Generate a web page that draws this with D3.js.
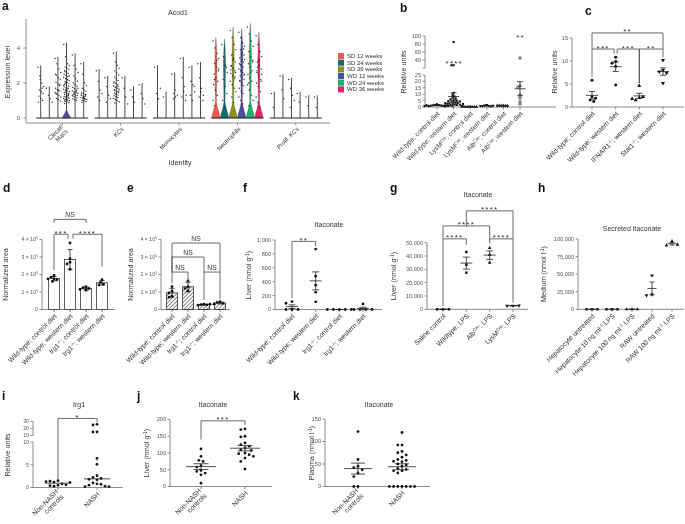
<!DOCTYPE html>
<html>
<head>
<meta charset="utf-8">
<script src="https://cdn.jsdelivr.net/npm/d3@7"></script>
<style>
  body { margin: 0; background: #fff; }
  svg { display: block; will-change: transform; -webkit-font-smoothing: antialiased; }
</style>
</head>
<body>
<script>
const width = 685;
const height = 524;
const AX = "#6e6e6e";
const TXT = "#333";
const FONT = '"Liberation Sans", Arial, sans-serif';

// ---------- panel a : Acod1 expression (violins) ----------
const aGroups = ["Clecaf/\nMacs", "KCs", "Monocytes", "Neutrophils", "Prolif. KCs"];
const aConds = ["SD 12 weeks", "SD 24 weeks", "SD 36 weeks", "WD 12 weeks", "WD 24 weeks", "WD 36 weeks"];
const aColors = ["#ee5a4b", "#176d71", "#8e8d22", "#4a4e9e", "#1ab26c", "#e5216a"];
const aMax = [
  [3.0, 1.8, 3.5, 4.3, 3.7, 3.2],
  [2.8, 2.4, 3.8, 2.4, 1.8, 2.0],
  [3.0, 1.5, 2.6, 3.5, 3.0, 3.2],
  [4.6, 4.5, 5.2, 5.1, 5.4, 4.9],
  [1.5, 2.5, 2.3, 1.5, 1.3, 1.3]
];
// height of the density bulge sitting on zero
const aBulge = [
  [0, 0, 0, 0.45, 0, 0],
  [0, 0, 0, 0, 0, 0],
  [0, 0, 0, 0, 0, 0],
  [0.95, 0.95, 0.95, 0.95, 0.95, 0.95],
  [0, 0, 0, 0, 0, 0]
];
const aDots = [
  [
    [2.9, 2.4, 2.0, 1.8, 1.6, 1.5, 1.4, 1.25, 1.1, 1.0, 0.9, 2.2, 1.7],
    [1.7, 1.3, 1.1, 0.9],
    [3.4, 3.1, 2.8, 2.6, 2.45, 2.3, 2.2, 2.05, 1.95, 1.85, 1.7, 1.62, 1.55, 1.44, 1.35, 1.28, 1.2, 1.12, 1.05, 0.98, 1.4, 1.6, 1.9, 2.5],
    [4.2, 3.5, 3.1, 3.0, 2.92, 2.85, 2.78, 2.7, 2.62, 2.55, 2.5, 2.44, 2.37, 2.31, 2.26, 2.2, 2.15, 2.09, 2.03, 1.98, 1.93, 1.88, 1.83, 1.78, 1.73, 1.69, 1.64, 1.6, 1.55, 1.51, 1.47, 1.43, 1.39, 1.35, 1.31, 1.27, 1.23, 1.19, 1.15, 1.11, 1.07, 1.03, 0.99, 0.95, 0.91, 0.87, 0.83, 1.21, 1.33, 1.45, 1.57, 1.7, 1.86, 2.0, 2.18, 2.4, 2.65, 1.26, 1.13, 1.02],
    [3.6, 3.0, 2.8, 2.6, 2.4, 2.25, 2.1, 2.0, 1.9, 1.82, 1.75, 1.68, 1.6, 1.55, 1.5, 1.45, 1.4, 1.36, 1.32, 1.28, 1.24, 1.2, 1.15, 1.1, 1.05, 1.0, 1.3, 1.42, 1.52, 1.7],
    [3.1, 2.5, 2.0, 1.85, 1.7, 1.6, 1.52, 1.45, 1.4, 1.35, 1.3, 1.26, 1.22, 1.18, 1.14, 1.1, 1.06, 1.02, 0.98, 0.94, 0.9, 1.2, 1.28, 1.38, 1.16, 1.08]
  ],
  [
    [2.7, 2.1, 1.6, 1.4, 1.2, 1.0],
    [2.3, 1.8, 1.3, 1.1, 0.9],
    [3.7, 3.2, 3.0, 2.85, 2.7, 2.58, 2.46, 2.35, 2.25, 2.15, 2.06, 1.98, 1.9, 1.83, 1.76, 1.7, 1.64, 1.58, 1.52, 1.47, 1.42, 1.37, 1.32, 1.27, 1.22, 1.17, 1.12, 1.06, 1.0, 0.93, 0.86, 1.45, 1.55, 1.62, 1.35, 1.8, 2.0],
    [2.3, 1.7, 1.2, 0.8],
    [1.6, 1.2, 0.9],
    [1.9, 1.4, 1.1, 0.8]
  ],
  [
    [2.9, 1.4, 1.1, 1.7],
    [1.2],
    [2.5, 1.4, 1.2, 1.3, 1.1, 1.6],
    [3.4, 2.3, 1.8, 1.3, 1.2, 1.5, 1.0],
    [2.9, 2.1, 1.9, 1.5, 1.3, 1.0, 1.8],
    [3.1, 2.3, 1.7, 1.3, 1.2, 1.5, 1.0]
  ],
  [
    [4.4, 4.0, 3.7, 3.4, 3.1, 2.9, 2.7, 2.5, 2.3, 2.1, 1.9, 1.6, 1.3, 1.0, 0.7, 3.3, 2.8, 2.2],
    [4.2, 3.5, 3.0, 2.6, 2.2, 1.8, 1.4, 1.0, 0.6, 2.9],
    [5.0, 4.6, 4.2, 3.9, 3.6, 3.4, 3.2, 3.0, 2.85, 2.7, 2.55, 2.4, 2.25, 2.1, 1.9, 1.7, 1.5, 1.2, 0.9, 2.6, 2.95, 3.3, 2.35, 2.75],
    [4.9, 4.6, 4.3, 4.1, 3.9, 3.75, 3.6, 3.45, 3.3, 3.2, 3.1, 3.0, 2.9, 2.8, 2.7, 2.6, 2.5, 2.4, 2.3, 2.2, 2.1, 2.0, 1.85, 1.7, 1.55, 1.4, 1.2, 1.0, 0.8, 3.35, 3.05, 2.75, 2.45, 2.15, 3.65, 3.95],
    [5.2, 4.8, 4.4, 4.1, 3.8, 3.5, 3.3, 3.1, 2.9, 2.7, 2.5, 2.3, 2.1, 1.9, 1.6, 1.3, 1.0, 0.7, 2.6, 3.2, 2.0],
    [4.7, 4.2, 3.8, 3.5, 3.2, 3.0, 2.8, 2.6, 2.4, 2.2, 2.0, 1.8, 1.5, 1.2, 0.9, 0.6, 2.5, 2.9, 3.3, 2.1, 2.7]
  ],
  [
    [1.4, 0.6],
    [2.4, 1.6, 1.1],
    [2.2, 1.7, 1.3, 1.0, 0.6],
    [1.4, 0.9],
    [1.2, 0.7],
    [1.2, 0.6]
  ]
];
// violin outline templates: [fraction of height, fraction of max half width]
const bulgeProfile = [[0, 1], [0.25, 0.78], [0.55, 0.45], [0.85, 0.2], [1, 0.13]];
const bodyProfile = [[0, 0.13], [0.3, 0.2], [0.6, 0.26], [0.85, 0.15], [1, 0.02]];

// ---------- panel b ----------
const bCats = ["Wild-type; control diet", "Wild-type; western diet", "LysM^{Cre}; control diet", "LysM^{Cre}; western diet", "Alb^{Cre}; control diet", "Alb^{Cre}; western diet"];
const bValues = [
  [2.1, 1.7, 1.5, 1.3, 1.2, 1.0, 0.9, 0.8, 0.6, 1.4, 1.1, 0.7],
  [85, 27, 27, 11, 9.5, 8.2, 7.4, 6.6, 6, 5.5, 5, 4.6, 4.2, 3.8, 3.5, 3.2, 2.9, 2.6, 2.3, 2.0, 1.8, 1.6, 1.4, 1.2, 1.0, 0.8, 0.6, 4.4, 3.0, 2.4],
  [0.4, 0.3, 0.2, 0.15, 0.1, 0.3, 0.2, 0.1],
  [1.6, 1.2, 0.9, 0.7, 0.5, 0.8, 1.0],
  [1.2, 1.0, 0.9, 1.1, 0.8, 1.0],
  [45, 16.5, 15.5, 9.4, 7, 4.1, 2.3]
];
const bStars = [[1, "****", 26], [5, "**", 89]];

// ---------- panel c ----------
const cCats = ["Wild-type; control diet", "Wild-type; western diet", "IFNAR1^{-/-}; western diet", "Stat1^{-/-}; western diet"];
const cValues = [
  [5.8, 2.2, 1.5, 1.2, 1.9],
  [10.8, 9.9, 9.5, 8.8, 4.8],
  [4.6, 2.0, 1.5, 2.2, 1.8],
  [10.2, 8.0, 7.7, 7.4, 5.2]
];
// [from, to, label, bracket value, left leg end, right leg end, left dx, right dx]
const cBrackets = [
  [0, 3, "**", 16.1, 12.6, 12.6, 0, 0],
  [0, 1, "***", 12.6, 6.6, 11.6, 0, -1.5],
  [1, 2, "***", 12.6, 11.6, 5.2, 1.5, 0],
  [2, 3, "**", 12.6, 5.2, 10.8, 0, 0]
];

// ---------- panels d, e, f ----------
const irgCats = ["Wild-type; control diet", "Wild-type; western diet", "Irg1^{-/-}; control diet", "Irg1^{-/-}; western diet"];
const dValues = [
  [1.95e5, 1.85e5, 1.75e5, 1.7e5, 1.6e5, 1.75e5],
  [3.8e5, 2.7e5, 2.6e5, 2.3e5, 2.9e5],
  [1.3e5, 1.25e5, 1.2e5, 1.15e5, 1.1e5],
  [1.7e5, 1.55e5, 1.45e5, 1.4e5]
];
const dBrackets = [
  [0, 2, "NS", 5.15e5, 4.95e5, 4.95e5, 0, 0],
  [0, 1, "***", 4.3e5, 2.25e5, 4.05e5, 0, -2],
  [1, 3, "****", 4.3e5, 4.05e5, 2.45e5, 3, 0]
];
const eValues = [
  [1.3e5, 1.05e5, 0.95e5, 0.75e5, 0.7e5],
  [1.65e5, 1.3e5, 1.2e5, 1.05e5],
  [0.3e5, 0.28e5, 0.27e5, 0.25e5, 0.3e5],
  [0.45e5, 0.4e5, 0.35e5, 0.32e5]
];
const eBrackets = [
  [0, 3, "NS", 3.8e5, 2.15e5, 2.15e5, 0, 0],
  [0, 2, "NS", 3.0e5, 2.15e5, 2.14e5, 0, 0],
  [0, 1, "NS", 2.14e5, 1.5e5, 1.75e5, 0, 0],
  [2, 3, "NS", 2.14e5, 0.55e5, 0.6e5, 0, 0]
];
const fValues = [
  [115, 90, 0, 0, 0],
  [870, 480, 350, 250, 110],
  [0, 0, 0, 0, 0],
  [80, 0, 0, 0, 0]
];
const fBrackets = [[0, 1, "**", 980, 165, 910, 0, 0]];

// ---------- panel g ----------
const gCats = ["Saline control", "Wildtype; LPS", "Alb^{Cre}; LPS", "LysM^{Cre}; LPS"];
const gValues = [
  [0, 0, 0],
  [43000, 33500, 27500],
  [46000, 41000, 35000],
  [2700, 2600, 2800]
];
const gBrackets = [
  [1, 3, "****", 73900, 62000, 53000, 0, 0],
  [0, 2, "****", 62600, 53000, 53000, 0, 0],
  [0, 1, "****", 52900, 2500, 48500, 0, 0],
  [2, 3, "****", 52900, 49500, 5000, 0, 0]
];

// ---------- panel h ----------
const hCats = ["Hepatocyte untreated", "Hepatocyte 10 ng ml^{-1} LPS", "Hepatocyte 100 ng ml^{-1} LPS", "RAW untreated", "RAW 100 ng ml^{-1} LPS"];
const hValues = [
  [0, 0, 0],
  [0, 0, 0],
  [0, 0, 0],
  [48000, 21000, 20000],
  [97000, 91000, 92000]
];

// ---------- panels i, j, k ----------
const nashCats = ["Non-NASH\ncontrols", "NASH"];
const iValues = [
  [1.5, 1.2, 0.8, 1.4, 0.5, 0.3, 0.4, 0.6, 1.3, 1.1],
  [26, 25, 15, 15, 6.4, 5.1, 2.6, 2.2, 2.0, 1.8, 1.7, 1.0, 0.8, 0.7, 0.5, 0.3, 0.2, 0.2]
];
const iBrackets = [[0, 1, "*", 34.4, 1.8, 28.7, 0, 0]];
const jValues = [
  [112, 90, 78, 75, 62, 58, 48, 45, 40, 35, 10],
  [172, 170, 150, 148, 130, 125, 120, 115, 110, 108, 100, 98, 95, 90, 85, 75, 52]
];
const jBrackets = [[0, 1, "***", 196, 140, 183, 0, 0]];
const kValues = [
  [122, 60, 45, 42, 37, 30, 22, 0, 0],
  [120, 92, 92, 78, 75, 70, 65, 60, 58, 56, 55, 50, 48, 45, 40, 38, 35, 35, 30, 0, 0, 0, 0, 0, 0, 0]
];

// =====================================================
const svg = d3.select("body").append("svg")
  .attr("width", width)
  .attr("height", height)
  .style("font-family", FONT);

const defs = svg.append("defs");
defs.append("pattern")
  .attr("id", "hatch")
  .attr("patternUnits", "userSpaceOnUse")
  .attr("width", 2.7).attr("height", 2.7)
  .attr("patternTransform", "rotate(45)")
  .append("line")
  .attr("x1", 0).attr("y1", 0).attr("x2", 0).attr("y2", 2.7)
  .attr("stroke", "#222").attr("stroke-width", 1.1);

// text with ^{superscript} parts
function rich(sel, str) {
  str.split(/(\^\{[^}]*\})/).forEach(part => {
    if (!part) return;
    const m = part.match(/^\^\{(.*)\}$/);
    if (m) {
      sel.append("tspan").attr("baseline-shift", "super").attr("font-size", "0.68em").text(m[1]);
    } else {
      sel.append("tspan").text(part);
    }
  });
}

function letter(t, x, y) {
  svg.append("text").attr("x", x).attr("y", y)
    .attr("font-size", 12).attr("font-weight", "bold").attr("fill", "#111").text(t);
}

function title(t, x, y) {
  svg.append("text").attr("x", x).attr("y", y).attr("text-anchor", "middle")
    .attr("font-size", 7).attr("fill", TXT).text(t);
}

function yLabel(t, x, y) {
  const el = svg.append("text")
    .attr("transform", `translate(${x},${y}) rotate(-90)`)
    .attr("text-anchor", "middle")
    .attr("font-size", 7.2).attr("fill", TXT);
  rich(el, t);
}

function catLabel(g, x, y, str, fs) {
  const lines = str.split("\n");
  const t = g.append("text")
    .attr("transform", `translate(${x},${y}) rotate(-45)`)
    .attr("text-anchor", "end")
    .attr("font-size", fs).attr("fill", TXT);
  lines.forEach((ln, k) => {
    const ts = t.append("tspan").attr("x", 0)
      .attr("dy", k === 0 ? (lines.length > 1 ? "-0.15em" : "0.35em") : "1.05em");
    rich(ts, ln);
  });
}

function symbolPath(type, size) {
  const t = {
    circle: d3.symbolCircle, open: d3.symbolCircle, square: d3.symbolSquare,
    tri: d3.symbolTriangle, triDown: d3.symbolTriangle, diamond: d3.symbolDiamond
  }[type];
  return d3.symbol(t, size)();
}

// simple beeswarm: nearest free horizontal slot
function swarm(ys, sep) {
  const placed = [];
  return ys.map(yy => {
    let off = 0;
    for (let k = 0; k < 80; k++) {
      const c = (k % 2 ? -1 : 1) * Math.ceil(k / 2) * sep * 0.5;
      if (placed.every(p => Math.hypot(p[0] - c, p[1] - yy) >= sep)) { off = c; break; }
    }
    placed.push([off, yy]);
    return off;
  });
}

function drawPanel(o) {
  const g = svg.append("g");
  const segs = o.segs.map(s => Object.assign({}, s, {
    sc: d3.scaleLinear().domain(s.domain).range(s.range)
  }));
  const y = v => (segs.length > 1 && v > segs[0].domain[1]) ? segs[1].sc(v) : segs[0].sc(v);
  const x = d3.scalePoint().domain(d3.range(o.cats.length)).range(o.xr);
  const base = segs[0].range[0];
  const fmt = o.fmt || d3.format(",");

  // y axis (one line per segment)
  segs.forEach(s => {
    g.append("line")
      .attr("x1", o.ax).attr("x2", o.ax)
      .attr("y1", s.range[0]).attr("y2", s.range[1])
      .attr("stroke", AX).attr("stroke-width", 0.8);
    s.ticks.forEach(t => {
      const ty = s.sc(t);
      g.append("line")
        .attr("x1", o.ax - 2.5).attr("x2", o.ax).attr("y1", ty).attr("y2", ty)
        .attr("stroke", AX).attr("stroke-width", 0.8);
      if (s.hide && s.hide.includes(t)) return;
      const lab = g.append("text")
        .attr("x", o.ax - 4).attr("y", ty).attr("dy", "0.35em")
        .attr("text-anchor", "end")
        .attr("font-size", o.tickFs || 5.6).attr("fill", "#555");
      rich(lab, fmt(t));
    });
  });

  // x axis
  g.append("line")
    .attr("x1", o.ax).attr("x2", o.xEnd).attr("y1", base).attr("y2", base)
    .attr("stroke", AX).attr("stroke-width", 0.8);
  o.cats.forEach((c, i) => {
    g.append("line")
      .attr("x1", x(i)).attr("x2", x(i)).attr("y1", base).attr("y2", base + 2.5)
      .attr("stroke", AX).attr("stroke-width", 0.8);
    catLabel(g, x(i) + 1.5, base + 5.5, c, o.catFs || 6.8);
  });

  const stats = o.values.map(v => ({
    mean: d3.mean(v), med: d3.median(v), sd: d3.deviation(v) || 0, n: v.length
  }));

  // bars with SD
  if (o.bar) {
    stats.forEach((s, i) => {
      g.append("rect")
        .attr("x", x(i) - 5.5).attr("width", 11)
        .attr("y", y(s.mean)).attr("height", base - y(s.mean))
        .attr("fill", o.bar === "hatch" ? "url(#hatch)" : "#fff")
        .attr("stroke", "#333").attr("stroke-width", 0.8);
      g.append("line")
        .attr("x1", x(i)).attr("x2", x(i))
        .attr("y1", y(s.mean - s.sd)).attr("y2", y(s.mean + s.sd))
        .attr("stroke", "#222").attr("stroke-width", 0.8);
      [s.mean - s.sd, s.mean + s.sd].forEach(v => {
        g.append("line")
          .attr("x1", x(i) - 2.5).attr("x2", x(i) + 2.5).attr("y1", y(v)).attr("y2", y(v))
          .attr("stroke", "#222").attr("stroke-width", 0.8);
      });
    });
  }

  // points
  o.values.forEach((vals, i) => {
    const ys = vals.map(y);
    const offs = swarm(ys, o.sep);
    const type = o.syms[i % o.syms.length];
    vals.forEach((v, k) => {
      g.append("path")
        .attr("d", symbolPath(type, o.symSize || 6))
        .attr("transform", `translate(${x(i) + offs[k]},${ys[k]})${type === "triDown" ? " rotate(180)" : ""}`)
        .attr("fill", type === "open" ? "#fff" : "#111")
        .attr("stroke", "#111")
        .attr("stroke-width", type === "open" ? 0.7 : 0);
    });
  });

  // mean / median lines
  if (!o.bar) {
    stats.forEach((s, i) => {
      const cx = x(i);
      const m = o.stat === "median" ? s.med : s.mean;
      g.append("line")
        .attr("x1", cx - o.meanW / 2).attr("x2", cx + o.meanW / 2)
        .attr("y1", y(m)).attr("y2", y(m))
        .attr("stroke", "#222").attr("stroke-width", 0.8);
      if (o.stat !== "median") {
        const e = s.sd / Math.sqrt(s.n);
        g.append("line")
          .attr("x1", cx).attr("x2", cx).attr("y1", y(m - e)).attr("y2", y(m + e))
          .attr("stroke", "#222").attr("stroke-width", 0.8);
        [m - e, m + e].forEach(v => {
          g.append("line")
            .attr("x1", cx - o.capW / 2).attr("x2", cx + o.capW / 2)
            .attr("y1", y(v)).attr("y2", y(v))
            .attr("stroke", "#222").attr("stroke-width", 0.8);
        });
      }
    });
  }

  // significance brackets
  (o.brackets || []).forEach(([a, b, lab, yv, l1, l2, dx1, dx2]) => {
    const x1 = x(a) + dx1, x2 = x(b) + dx2, yb = y(yv);
    g.append("path")
      .attr("d", `M${x1},${y(l1)}V${yb}H${x2}V${y(l2)}`)
      .attr("fill", "none").attr("stroke", "#444").attr("stroke-width", 0.8);
    g.append("text")
      .attr("x", (x1 + x2) / 2).attr("y", lab === "NS" ? yb - 2 : yb + 1.5)
      .attr("text-anchor", "middle")
      .attr("font-size", lab === "NS" ? 6.8 : 8)
      .attr("letter-spacing", lab === "NS" ? 0 : 1.2)
      .attr("fill", TXT).text(lab);
  });
  (o.stars || []).forEach(([i, lab, v]) => {
    g.append("text")
      .attr("x", x(i) + 0.6).attr("y", y(v)).attr("text-anchor", "middle")
      .attr("font-size", 8).attr("letter-spacing", 1.2)
      .attr("fill", TXT).text(lab);
  });
}

// =================== panel a ===================
(function () {
  const g = svg.append("g");
  const x = d3.scaleBand().domain(aGroups).range([33, 325]);
  const sub = d3.scalePoint().domain(aConds).range([-21.5, 21.5]);
  const y = d3.scaleLinear().domain([0, 5.6]).range([118, 20]);
  const hw = 4.3;

  g.append("line").attr("x1", 26).attr("x2", 26).attr("y1", 123).attr("y2", 19)
    .attr("stroke", AX).attr("stroke-width", 0.8);
  g.append("line").attr("x1", 26).attr("x2", 330).attr("y1", 123).attr("y2", 123)
    .attr("stroke", AX).attr("stroke-width", 0.8);
  [0, 2, 4].forEach(t => {
    g.append("line").attr("x1", 23.5).attr("x2", 26).attr("y1", y(t)).attr("y2", y(t))
      .attr("stroke", AX).attr("stroke-width", 0.8);
    g.append("text").attr("x", 20).attr("y", y(t)).attr("dy", "0.35em")
      .attr("text-anchor", "end").attr("font-size", 6).attr("fill", "#555").text(t);
  });

  function violinPath(cx, max, bulge, full) {
    const pts = bulgeProfile.map(([f, w]) => [y(f * bulge), w * hw]);
    if (full) bodyProfile.forEach(([f, w]) => pts.push([y(bulge + f * (max - bulge)), w * hw]));
    const right = pts.map(([py, w]) => [cx + w, py]);
    const left = pts.slice().reverse().map(([py, w]) => [cx - w, py]);
    return d3.line()(right.concat(left)) + "Z";
  }

  aGroups.forEach((grp, gi) => {
    const gc = x(grp) + x.bandwidth() / 2;
    const full = aBulge[gi].every(b => b > 0);
    aConds.forEach((cond, ci) => {
      const cx = gc + sub(cond);
      const max = aMax[gi][ci];
      const bulge = aBulge[gi][ci];
      if (full) {
        g.append("path").attr("d", violinPath(cx, max, bulge, true))
          .attr("fill", aColors[ci]).attr("stroke", "#333").attr("stroke-width", 0.25);
      } else {
        g.append("line").attr("x1", cx).attr("x2", cx).attr("y1", y(0)).attr("y2", y(max))
          .attr("stroke", "#4a4a4a").attr("stroke-width", 1);
        if (bulge > 0) {
          g.append("path").attr("d", violinPath(cx, max, bulge, false))
            .attr("fill", aColors[ci]).attr("stroke", "#333").attr("stroke-width", 0.25);
        }
      }
      aDots[gi][ci].forEach((v, k) => {
        const jit = (((k * 17) % 13) / 12 - 0.5) * 5.6;
        g.append("circle").attr("cx", cx + jit).attr("cy", y(v)).attr("r", 0.72)
          .attr("fill", "#111").attr("opacity", 0.85);
      });
    });
    // cells with zero expression
    g.append("line")
      .attr("x1", gc + sub(aConds[0]) - 4.5).attr("x2", gc + sub(aConds[5]) + 4.5)
      .attr("y1", y(0)).attr("y2", y(0))
      .attr("stroke", "#222").attr("stroke-width", 1.2);
    g.append("line").attr("x1", gc).attr("x2", gc).attr("y1", 123).attr("y2", 125.5)
      .attr("stroke", AX).attr("stroke-width", 0.8);
    catLabel(g, gc + 2, 128, grp, 6);
  });

  // legend
  const lg = g.append("g").attr("transform", "translate(338,53)");
  aConds.forEach((c, i) => {
    lg.append("rect").attr("x", 0).attr("y", i * 6.67).attr("width", 6).attr("height", 6.1)
      .attr("fill", aColors[i]);
    lg.append("text").attr("x", 9).attr("y", i * 6.67 + 3).attr("dy", "0.35em")
      .attr("font-size", 6).attr("fill", TXT).text(c);
  });

  title("Acod1", 178, 15);
  yLabel("Expression level", 10, 72);
  svg.append("text").attr("x", 180).attr("y", 165).attr("text-anchor", "middle")
    .attr("font-size", 7.2).attr("fill", TXT).text("Identity");
})();

// =================== panel b ===================
drawPanel({
  cats: bCats, values: bValues, xr: [437, 520], ax: 425, xEnd: 556,
  segs: [
    { domain: [0, 25], range: [107, 75], ticks: [0, 5, 10, 15, 20, 25] },
    { domain: [20, 100], range: [68, 36], ticks: [20, 40, 60, 80, 100], hide: [20] }
  ],
  syms: ["circle", "square", "tri", "triDown", "diamond", "open"], symSize: 4.5,
  sep: 2.1, meanW: 11, capW: 6, stars: bStars, catFs: 6.6
});

// =================== panel c ===================
drawPanel({
  cats: cCats, values: cValues, xr: [592, 663], ax: 572, xEnd: 684,
  segs: [{ domain: [0, 15], range: [107, 38], ticks: [0, 5, 10, 15] }],
  syms: ["circle", "circle", "tri", "triDown"], symSize: 7,
  sep: 3.6, meanW: 12, capW: 6, brackets: cBrackets
});

// =================== panels d, e ===================
const sciFmt = t => t === 0 ? "0" : `${t / 1e5} × 10^{5}`;
drawPanel({
  cats: irgCats, values: dValues, xr: [54, 102], ax: 42, xEnd: 115,
  segs: [{ domain: [0, 4e5], range: [309.5, 239.5], ticks: [0, 1e5, 2e5, 3e5, 4e5] }],
  fmt: sciFmt, tickFs: 5.2, bar: "open", syms: ["circle"], symSize: 6, sep: 3, brackets: dBrackets
});
drawPanel({
  cats: irgCats, values: eValues, xr: [172, 220], ax: 161, xEnd: 230,
  segs: [{ domain: [0, 4e5], range: [309.5, 239.5], ticks: [0, 1e5, 2e5, 3e5, 4e5] }],
  fmt: sciFmt, tickFs: 5.2, bar: "hatch", syms: ["circle", "tri", "circle", "tri"], symSize: 6, sep: 3, brackets: eBrackets
});

// =================== panel f ===================
drawPanel({
  cats: irgCats, values: fValues, xr: [292, 363], ax: 275, xEnd: 382,
  segs: [{ domain: [0, 1000], range: [309.5, 240], ticks: [0, 200, 400, 600, 800, 1000] }],
  syms: ["circle"], symSize: 6, sep: 6, meanW: 12, capW: 7, brackets: fBrackets
});

// =================== panel g ===================
drawPanel({
  cats: gCats, values: gValues, xr: [443, 513], ax: 427, xEnd: 528,
  segs: [{ domain: [0, 50000], range: [309.3, 242.7], ticks: [0, 10000, 20000, 30000, 40000, 50000] }],
  syms: ["circle", "square", "tri", "triDown"], symSize: 6, sep: 6, meanW: 12, capW: 7, brackets: gBrackets
});

// =================== panel h ===================
drawPanel({
  cats: hCats, values: hValues, xr: [592, 672], ax: 578, xEnd: 684,
  segs: [{ domain: [0, 100000], range: [309.3, 239], ticks: [0, 25000, 50000, 75000, 100000] }],
  syms: ["circle", "square", "tri", "triDown", "tri"], symSize: 6, sep: 5.5, meanW: 9, capW: 5
});

// =================== panels i, j, k ===================
drawPanel({
  cats: nashCats, values: iValues, xr: [58, 97], ax: 33, xEnd: 123,
  segs: [
    { domain: [0, 10], range: [487.5, 442], ticks: [0, 5, 10] },
    { domain: [10, 30], range: [435.5, 421.5], ticks: [10, 20, 30] }
  ],
  syms: ["circle"], symSize: 6, sep: 4, meanW: 26, stat: "median", brackets: iBrackets, tickFs: 5.2
});
drawPanel({
  cats: nashCats, values: jValues, xr: [201, 245], ax: 170, xEnd: 272,
  segs: [{ domain: [0, 200], range: [486.5, 419.5], ticks: [0, 50, 100, 150, 200] }],
  syms: ["circle"], symSize: 6, sep: 4.2, meanW: 30, capW: 15, brackets: jBrackets
});
drawPanel({
  cats: nashCats, values: kValues, xr: [358, 402], ax: 325, xEnd: 430,
  segs: [{ domain: [0, 150], range: [486.5, 419], ticks: [0, 50, 100, 150] }],
  syms: ["circle"], symSize: 6, sep: 4.2, meanW: 28, capW: 14
});

// =================== titles, labels, letters ===================
title("Itaconate", 329, 227);
title("Itaconate", 478, 197);
title("Secreted itaconate", 632, 231);
title("Irg1", 79, 407);
title("Itaconate", 213, 407);
title("Itaconate", 379, 407);

yLabel("Relative units", 406, 72);
yLabel("Relative units", 556.5, 72);
yLabel("Normalized area", 8, 274.5);
yLabel("Normalized area", 132.5, 274.5);
yLabel("Liver (nmol g^{-1})", 250.5, 275);
yLabel("Liver (nmol g^{-1})", 395.5, 276);
yLabel("Medium (nmol l^{-1})", 546, 274);
yLabel("Relative units", 9.5, 455);
yLabel("Liver (nmol g^{-1})", 148.5, 453);
yLabel("Plasma (nmol l^{-1})", 314, 453);

letter("a", 2, 10);
letter("b", 400, 12);
letter("c", 585, 15);
letter("d", 3, 192);
letter("e", 127, 192);
letter("f", 243, 192);
letter("g", 390, 192);
letter("h", 538, 192);
letter("i", 2, 400);
letter("j", 137, 400);
letter("k", 293, 400);
</script>
</body>
</html>
